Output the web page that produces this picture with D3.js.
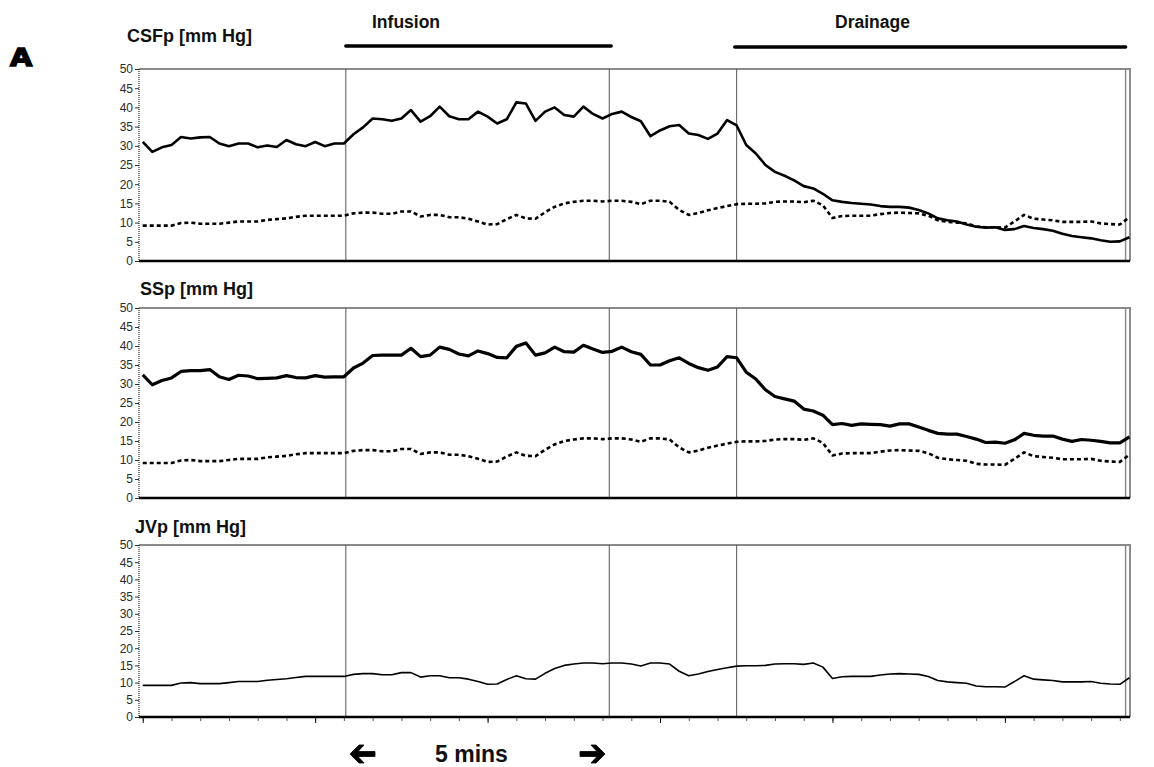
<!DOCTYPE html>
<html>
<head>
<meta charset="utf-8">
<script src="https://cdn.jsdelivr.net/npm/d3@7"></script>
<style>
  body { margin: 0; background: #fff; }
  text { font-family: "Liberation Sans", Arial, sans-serif; }
</style>
</head>
<body>
<div id="chart"></div>
<script>
// pressures in mm Hg, one value per sample
const csfp = [31, 28.4, 29.6, 30.2, 32.3, 31.9, 32.2, 32.3, 30.6, 29.9,
  30.6, 30.6, 29.6, 30.1, 29.7, 31.5, 30.4, 29.9, 31, 29.9,
  30.6, 30.6, 33, 34.8, 37.1, 36.9, 36.5, 37.1, 39.3, 36.3,
  37.7, 40.2, 37.7, 36.9, 36.9, 38.9, 37.6, 35.8, 36.9, 41.3,
  41, 36.5, 38.9, 40, 38, 37.6, 40.2, 38.3, 37.1, 38.3,
  38.9, 37.5, 36.4, 32.5, 34, 35.1, 35.4, 33.2, 32.8, 31.8,
  33.2, 36.7, 35.3, 30.2, 28, 25, 23.2, 22.2, 21, 19.5,
  18.9, 17.5, 15.8, 15.4, 15.1, 14.9, 14.7, 14.3, 14.1, 14.1,
  13.9, 13.3, 12.4, 11.1, 10.6, 10.3, 9.5, 8.9, 8.7, 8.8,
  8.1, 8.3, 9.1, 8.6, 8.3, 7.9, 7.1, 6.5, 6.2, 5.9,
  5.4, 5.0, 5.1, 6.2];

const ssp = [32.4, 29.8, 30.9, 31.6, 33.3, 33.5, 33.5, 33.8, 31.9, 31.2,
  32.3, 32.1, 31.4, 31.5, 31.6, 32.2, 31.7, 31.6, 32.2, 31.8,
  31.9, 31.9, 34.2, 35.5, 37.5, 37.6, 37.6, 37.6, 39.4, 37.2,
  37.6, 39.7, 39.1, 37.9, 37.4, 38.7, 38.0, 37.0, 36.9, 39.9,
  40.8, 37.6, 38.2, 39.7, 38.5, 38.4, 40.2, 39.2, 38.3, 38.6,
  39.7, 38.5, 37.8, 35.0, 35.0, 36.1, 36.9, 35.4, 34.3, 33.6,
  34.5, 37.2, 36.9, 33.1, 31.3, 28.5, 26.7, 26.1, 25.5, 23.4,
  22.9, 21.8, 19.3, 19.6, 19.1, 19.5, 19.4, 19.3, 18.9, 19.5,
  19.5, 18.7, 17.8, 17.0, 16.8, 16.8, 16.2, 15.5, 14.6, 14.7,
  14.4, 15.3, 17.0, 16.5, 16.3, 16.3, 15.5, 14.9, 15.4, 15.2,
  14.9, 14.5, 14.5, 16.1];

const jvp = [9.2, 9.2, 9.2, 9.2, 9.9, 10.0, 9.7, 9.7, 9.7, 10.0,
  10.3, 10.3, 10.3, 10.7, 10.9, 11.1, 11.5, 11.8, 11.8, 11.8,
  11.8, 11.8, 12.4, 12.6, 12.6, 12.3, 12.3, 12.9, 12.9, 11.6,
  12.0, 12.0, 11.4, 11.4, 11.0, 10.3, 9.5, 9.6, 10.9, 12.0,
  11.1, 11.0, 12.7, 14.1, 15.0, 15.4, 15.7, 15.7, 15.5, 15.7,
  15.7, 15.4, 14.8, 15.7, 15.7, 15.4, 13.3, 12.0, 12.5, 13.2,
  13.8, 14.3, 14.8, 14.9, 14.9, 15.0, 15.4, 15.5, 15.5, 15.3,
  15.7, 14.5, 11.2, 11.7, 11.8, 11.8, 11.8, 12.2, 12.5, 12.6,
  12.5, 12.4, 11.8, 10.6, 10.2, 10.0, 9.8, 9.0, 8.8, 8.8,
  8.7, 10.3, 12.0, 11.0, 10.8, 10.6, 10.2, 10.2, 10.2, 10.3,
  9.8, 9.6, 9.5, 11.4];

const samples = d3.range(csfp.length);
const eventMarks = [21.2, 48.7, 62.0, 102.6];
const phaseNames = ["Infusion", "Drainage"];
const phaseStart = [21.2, 61.8];
const phaseEnd = [48.9, 102.6];
const yTicks = d3.range(0, 51, 5);
const xMinorTicks = d3.range(0, 103, 3);
const xMajorTicks = d3.range(0, 103, 18);

const width = 1154, height = 767;
const x = d3.scaleLinear().domain([-0.39, 103.06]).range([139, 1130]);

const svg = d3.select("#chart").append("svg")
  .attr("width", width)
  .attr("height", height);

const panels = [
  {title: "CSFp [mm Hg]", tx: 127, ty: 42, top: 69, bottom: 261,
    lines: [{v: csfp, w: 2.6}, {v: jvp, w: 2.6, dash: "4,3"}]},
  {title: "SSp [mm Hg]", tx: 140, ty: 295, top: 308, bottom: 498,
    lines: [{v: ssp, w: 3.2}, {v: jvp, w: 2.6, dash: "4,3"}]},
  {title: "JVp [mm Hg]", tx: 135, ty: 533, top: 545, bottom: 717,
    lines: [{v: jvp, w: 1.6}]}
];

panels.forEach(function (p, pi) {
  const y = d3.scaleLinear().domain([0, 50]).range([p.bottom, p.top]);
  const g = svg.append("g");

  g.append("text")
    .attr("x", p.tx).attr("y", p.ty)
    .attr("font-size", 18).attr("font-weight", "bold")
    .attr("fill", "#111")
    .text(p.title);

  // top and right border
  g.append("path")
    .attr("d", "M" + x.range()[0] + "," + p.top + "H" + x.range()[1] + "V" + p.bottom)
    .attr("fill", "none").attr("stroke", "#8a8a8a").attr("stroke-width", 2);

  g.selectAll(".ev")
    .data(eventMarks)
    .enter().append("line")
    .attr("x1", d => x(d)).attr("x2", d => x(d))
    .attr("y1", p.top).attr("y2", p.bottom)
    .attr("stroke", (d, i) => i === 3 ? "#8a8a8a" : "#555")
    .attr("stroke-width", (d, i) => i === 3 ? 1.5 : 1);

  const line = d3.line()
    .x(function (d) { return x(d[0]); })
    .y(function (d) { return y(d[1]); });

  p.lines.forEach(function (s) {
    g.append("path")
      .datum(samples.map(i => [i, s.v[i]]))
      .attr("fill", "none")
      .attr("stroke", "#000")
      .attr("stroke-width", s.w)
      .attr("stroke-linejoin", "round")
      .attr("stroke-dasharray", s.dash || null)
      .attr("d", line);
  });

  const yAxis = g.append("g")
    .attr("transform", "translate(" + x.range()[0] + ",0)")
    .call(d3.axisLeft(y).tickValues(yTicks).tickSize(4).tickPadding(2));
  yAxis.select(".domain").remove();
  yAxis.selectAll("text").attr("font-size", 12).attr("fill", "#2a2a2a");
  yAxis.selectAll("line").attr("stroke", "#333");

  g.append("line")
    .attr("x1", x.range()[0]).attr("x2", x.range()[0])
    .attr("y1", p.top).attr("y2", p.bottom)
    .attr("stroke", "#000").attr("stroke-dasharray", "1,1");

  g.append("line")
    .attr("x1", x.range()[0]).attr("x2", x.range()[1])
    .attr("y1", p.bottom).attr("y2", p.bottom)
    .attr("stroke", "#000").attr("stroke-width", 2.5);

  if (pi === 2) {
    g.append("g")
      .attr("transform", "translate(0," + (p.bottom + 1) + ")")
      .call(d3.axisBottom(x).tickValues(xMinorTicks).tickSize(3).tickFormat(""))
      .call(a => a.select(".domain").remove())
      .selectAll("line").attr("stroke", "#555");
    g.append("g")
      .attr("transform", "translate(0," + (p.bottom + 1) + ")")
      .call(d3.axisBottom(x).tickValues(xMajorTicks).tickSize(5).tickFormat(""))
      .call(a => a.select(".domain").remove())
      .selectAll("line").attr("stroke", "#111");
  }
});

// phase bars
svg.selectAll(".phase")
  .data(phaseNames)
  .enter().append("line")
  .attr("x1", (d, i) => x(phaseStart[i]))
  .attr("x2", (d, i) => x(phaseEnd[i]))
  .attr("y1", (d, i) => 46 + i)
  .attr("y2", (d, i) => 46 + i)
  .attr("stroke", "#000")
  .attr("stroke-width", 3.5)
  .attr("stroke-linecap", "round");

svg.selectAll(".phaseLabel")
  .data(phaseNames)
  .enter().append("text")
  .attr("x", (d, i) => i === 0 ? 372 : 835)
  .attr("y", 28)
  .attr("font-size", 17.5)
  .attr("font-weight", "bold")
  .attr("fill", "#111")
  .text(d => d);

svg.append("text")
  .attr("transform", "translate(10,66) scale(1.15,1)")
  .style("font-family", "'DejaVu Sans', sans-serif")
  .style("font-size", "25px")
  .style("font-weight", "bold")
  .attr("stroke", "#000").attr("stroke-width", 1.4)
  .text("A");

// 5 min scale arrows
svg.append("path")
  .attr("d", "M350,754 L359,745 L364,745 L358,751.5 L375,751.5 L375,756.5 L358,756.5 L364,763 L359,763 Z")
  .attr("fill", "#000").attr("stroke", "#000").attr("stroke-width", 0.8);
svg.append("path")
  .attr("d", "M605,754 L596,745 L591,745 L597,751.5 L580,751.5 L580,756.5 L597,756.5 L591,763 L596,763 Z")
  .attr("fill", "#000").attr("stroke", "#000").attr("stroke-width", 0.8);

svg.append("text")
  .attr("x", 435).attr("y", 762)
  .attr("font-size", 23).attr("font-weight", "bold")
  .attr("fill", "#111")
  .text("5 mins");
</script>
</body>
</html>
